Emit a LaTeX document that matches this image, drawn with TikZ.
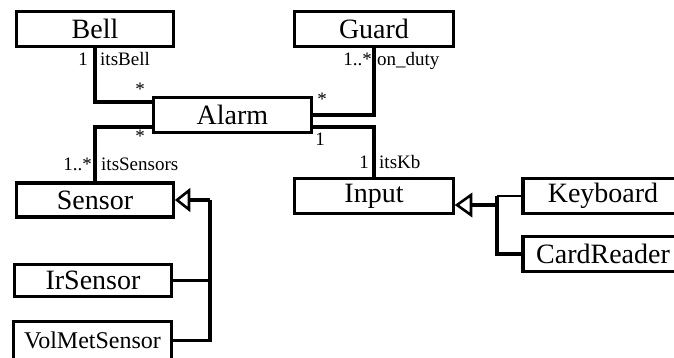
\documentclass[tikz,border=0pt]{standalone}
\usepackage{fontspec}
\setmainfont{Liberation Serif}
\begin{document}
\begin{tikzpicture}[x=1pt,y=-1pt,
  box/.style={draw, line width=3.2pt, inner sep=0pt, outer sep=0pt, fill=white,
    font=\fontsize{28}{30}\selectfont},
  lbl/.style={inner sep=0pt, font=\fontsize{19}{21}\selectfont},
  conn/.style={line width=3.2pt},
  thinconn/.style={line width=2.2pt},
  gentri/.style={draw, line width=2.6pt, fill=white, line join=miter}
]
\useasboundingbox (0,0) rectangle (674,358);
\clip (0,0) rectangle (674,358);
% boxes
\node[box, minimum width=157pt, minimum height=35pt] (Bell) at (95,29) {Bell};
\node[box, minimum width=159pt, minimum height=35pt] (Guard) at (374,29) {Guard};
\node[box, minimum width=158pt, minimum height=35pt] (Alarm) at (232.5,115) {Alarm};
\node[box, minimum width=157pt, minimum height=34pt] (Sensor) at (95,200) {Sensor};
\node[box, minimum width=159pt, minimum height=35pt] (Input) at (374,196) {Input};
\node[box, minimum width=160pt, minimum height=35pt] (Keyboard) at (603,196) {Keyboard};
\node[box, minimum width=160pt, minimum height=35pt] (CardReader) at (603,254) {CardReader};
\node[box, minimum width=157pt, minimum height=32pt] (IrSensor) at (93,280.5) {IrSensor};
\node[box, minimum width=158pt, minimum height=38pt, font=\fontsize{24}{26}\selectfont] (VolMetSensor) at (92.5,340.5) {VolMetSensor};
% associations
\draw[conn] ([yshift=13pt]Alarm.west) -| (Bell.south);
\draw[conn] ([yshift=-12pt]Alarm.west) -| (Sensor.north);
\draw[conn] (Alarm.east) -| (Guard.south);
\draw[conn] ([yshift=-12pt]Alarm.east) -| (Input.north);
% generalization Sensor
\coordinate (sj) at (210,200);
\draw[conn] (VolMetSensor.east) -| (sj);
\draw[thinconn] (IrSensor.east) -- (IrSensor.east -| sj);
\draw[conn] (sj) -- ([xshift=14pt]Sensor.east);
\draw[gentri] ([xshift=3.5pt]Sensor.east) -- ++(12,-9.5) -- ++(0,19) -- cycle;
% generalization Input
\coordinate (ij) at (497,205);
\coordinate (kj) at (497,196);
\draw[conn] (CardReader.west) -| (kj);
\draw[thinconn] (kj) -- (Keyboard.west);
\draw[conn] (ij) -- ([xshift=15pt, yshift=-9pt]Input.east);
\draw[gentri] ([xshift=3.5pt, yshift=-9pt]Input.east) -- ++(14,-10) -- ++(0,20) -- cycle;
% labels
\node[lbl, anchor=base east] (l1) at (88,66) {1};
\node[lbl, anchor=base west] (l2) at (100,66) {itsBell};
\node[lbl] (l3) at (140,89) {*};
\node[lbl, anchor=base east] (l4) at (372,66) {1..*};
\node[lbl, anchor=base west] (l5) at (377,66) {on\_duty};
\node[lbl] (l6) at (322,99) {*};
\node[lbl, anchor=base] (l7) at (320,146) {1};
\node[lbl, anchor=base east] (l8) at (369,168) {1};
\node[lbl, anchor=base west] (l9) at (379,168) {itsKb};
\node[lbl] (l10) at (140,136) {*};
\node[lbl, anchor=base east] (l11) at (92,171) {1..*};
\node[lbl, anchor=base west] (l12) at (101,171) {itsSensors};
\end{tikzpicture}
\end{document}
